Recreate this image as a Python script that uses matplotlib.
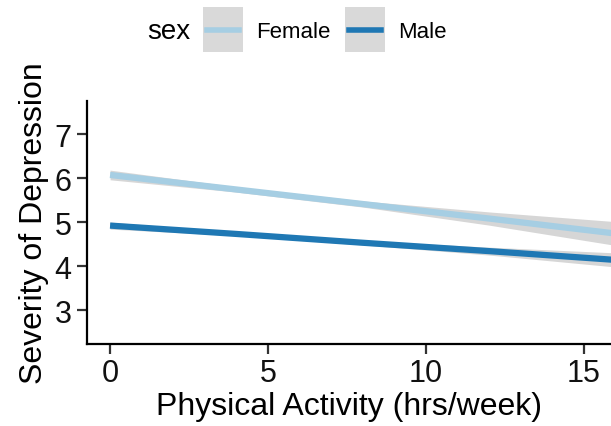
import matplotlib

matplotlib.use("Agg")

import matplotlib.pyplot as plt  # noqa: E402
from matplotlib.lines import Line2D  # noqa: E402
from matplotlib.patches import Rectangle  # noqa: E402

plt.rcParams["font.family"] = ["Liberation Sans", "DejaVu Sans"]

# fitted lines with confidence band half-widths
activity = [0, 4, 8, 12, 16]
female_fit = [6.07, 5.74, 5.41, 5.08, 4.74]
female_ci = [0.11, 0.06, 0.07, 0.15, 0.27]
male_fit = [4.92, 4.73, 4.53, 4.34, 4.14]
male_ci = [0.08, 0.04, 0.05, 0.09, 0.16]

series = [
    ("Female", female_fit, female_ci, "#a6cee3"),
    ("Male", male_fit, male_ci, "#1f78b4"),
]

x_ticks = [0, 5, 10, 15]
y_ticks = [3, 4, 5, 6, 7]

W, H = 611, 427
fig = plt.figure(figsize=(W / 100, H / 100), dpi=100)
ax = fig.add_axes([87 / W, 1 - 345 / H, 1 - 87 / W, (345 - 102) / H])

for name, fit, ci, color in series:
    lo = [f - c for f, c in zip(fit, ci)]
    hi = [f + c for f, c in zip(fit, ci)]
    ax.fill_between(activity, lo, hi, color="#999999", alpha=0.4, linewidth=0)
for name, fit, ci, color in series:
    ax.plot(activity, fit, color=color, linewidth=4.5, solid_capstyle="butt")

ax.set_xlim(-0.73, 15.86)
ax.set_ylim(2.23, 7.75)
ax.set_xticks(x_ticks)
ax.set_yticks(y_ticks)
for side in ("top", "right"):
    ax.spines[side].set_visible(False)
for side in ("left", "bottom"):
    ax.spines[side].set_linewidth(1.6)
ax.tick_params(length=7, width=1.6, labelsize=22, colors="#111111", pad=3)
ax.tick_params(color="#333333")
ax.tick_params(axis="y", pad=4)
ax.set_xlabel("Physical Activity (hrs/week)", fontsize=23, labelpad=2)
ax.set_ylabel("Severity of Depression", fontsize=23, labelpad=4)

# ---- legend drawn on top, ggplot style ----
def px(x, y):
    return x / W, 1 - y / H

fig.text(*px(147, 32), "sex", fontsize=20, va="center", ha="left")
keys = [("Female", 203, "#a6cee3"), ("Male", 345, "#1f78b4")]
for label, x0, color in keys:
    fig.add_artist(Rectangle(px(x0, 53), 40 / W, 45 / H,
                             transform=fig.transFigure,
                             facecolor="#d9d9d9", edgecolor="none"))
    x1, y1 = px(x0 + 4, 31)
    x2, _ = px(x0 + 36, 31)
    fig.add_artist(Line2D([x1, x2], [y1, y1], transform=fig.transFigure,
                          color=color, linewidth=4))
    fig.text(*px(x0 + 53, 32), label, fontsize=16, va="center", ha="left")

fig.savefig("out.png", dpi=100, facecolor="white")
plt.close(fig)
